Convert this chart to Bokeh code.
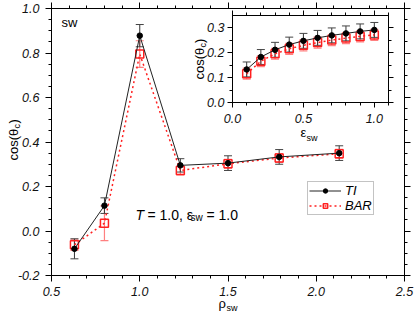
import math
from bokeh.plotting import figure
from bokeh.models import (Range1d, LinearAxis, SingleIntervalTicker, PrintfTickFormatter,
                          Whisker, TeeHead, ColumnDataSource, Label, Legend, LegendItem, GridBox)
from bokeh.embed import file_html
from bokeh.resources import INLINE

# ---------------- data (main panel) ----------------
rho = [0.63, 0.80, 1.00, 1.23, 1.50, 1.79, 2.13]
ti_main = [-0.080, 0.114, 0.878, 0.295, 0.305, 0.333, 0.350]
ti_main_err = [0.045, 0.035, 0.050, 0.030, 0.033, 0.033, 0.033]
bar_main = [-0.062, 0.035, 0.795, 0.272, 0.302, 0.328, 0.347]
bar_main_err = [0.025, 0.078, 0.060, 0.020, 0.020, 0.020, 0.020]

# ---------------- data (inset) ----------------
eps = [0.1, 0.2, 0.3, 0.4, 0.5, 0.6, 0.7, 0.8, 0.9, 1.0]
ti_inset = [0.133, 0.183, 0.212, 0.233, 0.248, 0.260, 0.270, 0.278, 0.286, 0.292]
ti_inset_err = [0.030, 0.030, 0.030, 0.030, 0.030, 0.030, 0.030, 0.030, 0.030, 0.030]
bar_inset = [0.116, 0.166, 0.196, 0.216, 0.230, 0.241, 0.251, 0.259, 0.266, 0.272]
bar_inset_err = [0.022, 0.022, 0.022, 0.022, 0.022, 0.022, 0.022, 0.022, 0.022, 0.022]

FONT = "Liberation Sans"
RED = "#ff2020"
RED_ERR = "#ff8080"
W, H = 415, 312
BL, BR, BT, BB = 51, 11, 8, 37   # common border sizes (frames get aligned in a grid)


def make_axis(ticker, labels=True, size="12px", standoff=5, tmaj=6, tmin=3):
    ax = LinearAxis(ticker=ticker, formatter=PrintfTickFormatter(format="%.1f"))
    ax.axis_line_color = "black"
    ax.axis_line_width = 1
    ax.major_tick_in = 0
    ax.major_tick_out = tmaj
    ax.minor_tick_in = 0
    ax.minor_tick_out = tmin
    ax.major_tick_line_color = "black"
    ax.minor_tick_line_color = "black"
    if labels:
        ax.major_label_text_font = FONT
        ax.major_label_text_font_style = "italic"
        ax.major_label_text_font_size = size
        ax.major_label_text_color = "#111111"
        ax.major_label_standoff = standoff
    else:
        ax.major_label_text_font_size = "1px"
        ax.major_label_text_color = None
        ax.major_label_standoff = 0
    return ax


def src(x, y, e):
    return ColumnDataSource(dict(x=x, y=y,
                                 lo=[a - b for a, b in zip(y, e)],
                                 hi=[a + b for a, b in zip(y, e)]))


def add_series(p, s_bar, s_ti, head):
    bl = p.line("x", "y", source=s_bar, line_color=RED, line_width=1.5, line_dash="2 3")
    p.add_layout(Whisker(source=s_bar, base="x", lower="lo", upper="hi",
                         line_color=RED_ERR, line_width=1.2,
                         upper_head=TeeHead(size=head, line_color=RED_ERR, line_width=1.2),
                         lower_head=TeeHead(size=head, line_color=RED_ERR, line_width=1.2)))
    bs = p.scatter("x", "y", source=s_bar, marker="square", size=8, fill_color="white",
                   fill_alpha=0.0, line_color=RED, line_width=1.5)
    tl = p.line("x", "y", source=s_ti, line_color="#222222", line_width=1)
    p.add_layout(Whisker(source=s_ti, base="x", lower="lo", upper="hi",
                         line_color="#333333", line_width=1,
                         upper_head=TeeHead(size=head, line_color="#444444", line_width=1),
                         lower_head=TeeHead(size=head, line_color="#444444", line_width=1)))
    ts = p.scatter("x", "y", source=s_ti, marker="circle", size=5.5, fill_color="black",
                   line_color="black")
    return tl, ts, bl, bs


# ---------------- main figure ----------------
main = figure(width=W, height=H, x_range=Range1d(0.5, 2.5), y_range=Range1d(-0.2, 1.0),
              output_backend="svg", toolbar_location=None,
              x_axis_location=None, y_axis_location=None,
              min_border_left=BL, min_border_right=BR, min_border_top=BT, min_border_bottom=BB)
main.grid.visible = False
main.outline_line_color = "black"
main.background_fill_color = "white"
main.border_fill_color = "white"

xt = SingleIntervalTicker(interval=0.5, num_minor_ticks=5)
yt = SingleIntervalTicker(interval=0.2, num_minor_ticks=4)
main.add_layout(make_axis(xt, True, "12.5px", 5), "below")
main.add_layout(make_axis(xt, False), "above")
main.add_layout(make_axis(yt, True, "12.5px", 6), "left")
main.add_layout(make_axis(yt, False), "right")

tl, ts, bl, bs = add_series(main, src(rho, bar_main, bar_main_err),
                            src(rho, ti_main, ti_main_err), 8)

legend = Legend(items=[LegendItem(label="TI", renderers=[tl, ts]),
                       LegendItem(label="BAR", renderers=[bl, bs])],
                location=(256, 60), orientation="vertical")
legend.label_text_font = FONT
legend.label_text_font_style = "italic"
legend.label_text_font_size = "13px"
legend.label_text_color = "black"
legend.label_height = 11
legend.label_standoff = 4
legend.glyph_width = 32
legend.glyph_height = 11
legend.spacing = 0
legend.padding = 1
legend.margin = 0
legend.border_line_color = "#888888"
legend.border_line_width = 1.5
legend.background_fill_color = "white"
legend.background_fill_alpha = 1.0
main.add_layout(legend)

# ---------------- inset figure (frame at page x 232..388, y 15..102) ----------------
IX, IY = 232 - BL, 15 - BT
IWID = (388 - 232) + BL + BR
IHGT = (102 - 15) + BT + BB
inset = figure(width=IWID, height=IHGT,
               x_range=Range1d(0.0, 1.1), y_range=Range1d(0.0, 0.35),
               output_backend="svg", toolbar_location=None,
               x_axis_location=None, y_axis_location=None,
               min_border_left=BL, min_border_right=BR, min_border_top=BT, min_border_bottom=BB)
inset.grid.visible = False
inset.outline_line_color = "black"
inset.background_fill_color = None
inset.border_fill_color = None

ixt = SingleIntervalTicker(interval=0.5, num_minor_ticks=5)
iyt = SingleIntervalTicker(interval=0.1, num_minor_ticks=2)
inset.add_layout(make_axis(ixt, True, "12.5px", 6, 5, 3), "below")
inset.add_layout(make_axis(ixt, False, tmaj=5, tmin=3), "above")
inset.add_layout(make_axis(iyt, True, "12.5px", 3, 5, 3), "left")
inset.add_layout(make_axis(iyt, False, tmaj=5, tmin=3), "right")

add_series(inset, src(eps, bar_inset, bar_inset_err), src(eps, ti_inset, ti_inset_err), 8)
inset.margin = (IY, W - IX - IWID, H - IY - IHGT, IX)

plots = GridBox(children=[(main, 0, 0), (inset, 0, 0)])

# ---------------- text overlay (page-pixel coordinates, y downwards) ----------------
txt = figure(width=W, height=H, x_range=Range1d(0, W), y_range=Range1d(H, 0),
             output_backend="svg", toolbar_location=None,
             x_axis_location=None, y_axis_location=None,
             min_border_left=0, min_border_right=0, min_border_top=0, min_border_bottom=0)
txt.grid.visible = False
txt.outline_line_color = None
txt.background_fill_color = None
txt.border_fill_color = None


def tlab(x, y, text, size="13px", angle=0, style="normal"):
    txt.add_layout(Label(x=x, y=y, text=text, angle=angle,
                         text_font=FONT, text_font_size=size, text_font_style=style,
                         text_align="left", text_baseline="alphabetic", text_color="black"))


A = math.pi / 2
# main panel texts
tlab(61, 22, "sw", "13px")
tlab(135, 214, "T", "14px", style="italic")
tlab(147, 214, "= 1.0, \u03b5", "14px")
tlab(190, 217, "sw", "10px")
tlab(206, 214, "= 1.0", "14px")
tlab(218, 303, "\u03c1", "13px")
tlab(226, 307, "sw", "9px")
tlab(13, 160, "cos(\u03b8", "13px", angle=A)
tlab(16, 128, "c", "9px", angle=A)
tlab(13, 123, ")", "13px", angle=A)
# inset texts
tlab(300, 132, "\u03b5", "13px")
tlab(306, 137.5, "sw", "9px")
tlab(199, 79, "cos(\u03b8", "13px", angle=A)
tlab(202, 47, "c", "9px", angle=A)
tlab(199, 42.5, ")", "13px", angle=A)

layout = GridBox(children=[(plots, 0, 0), (txt, 0, 0)])
open("out.html", "w").write(file_html(layout, INLINE))
